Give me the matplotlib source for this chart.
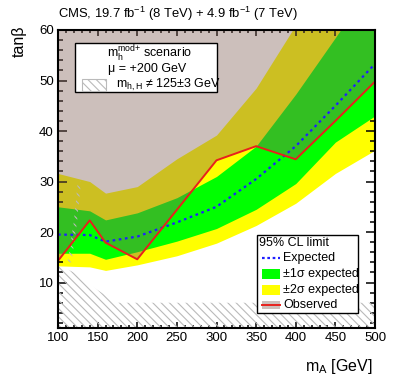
import matplotlib
matplotlib.use("Agg")
import matplotlib.pyplot as plt
from matplotlib.patches import Rectangle
from matplotlib.lines import Line2D
from matplotlib.ticker import MultipleLocator

plt.rcParams['font.family'] = ['Liberation Sans', 'DejaVu Sans']
plt.rcParams['mathtext.fontset'] = 'custom'
plt.rcParams['mathtext.rm'] = 'Liberation Sans'
plt.rcParams['mathtext.it'] = 'Liberation Sans:italic'
plt.rcParams['mathtext.bf'] = 'Liberation Sans:bold'
plt.rcParams['hatch.linewidth'] = 0.8

# ---- data ----
mA = [100, 140, 160, 200, 250, 300, 350, 400, 450, 500]
expected = [19.5, 19.4, 18.1, 19.1, 21.9, 25.0, 30.5, 37.0, 45.0, 53.3]
observed = [14.3, 22.3, 17.9, 14.6, 24.4, 34.2, 37.0, 34.4, 42.0, 49.8]
sig1_lo = [15.8, 15.8, 14.6, 16.1, 18.2, 20.7, 24.5, 29.6, 37.8, 43.0]
sig1_hi = [25.0, 24.2, 22.4, 23.8, 26.8, 31.0, 37.0, 47.3, 58.5, 70.0]
sig2_lo = [13.3, 13.1, 12.4, 13.5, 15.3, 17.8, 21.3, 25.7, 31.6, 36.2]
sig2_hi = [31.6, 30.0, 27.7, 29.0, 34.5, 39.2, 48.5, 61.0, 72.0, 84.0]

# m_h,H != 125+-3 GeV excluded region (hatched)
hatch_low_x = [100, 120, 150, 175, 500]
hatch_low_y = [13.5, 12.0, 8.5, 6.0, 6.0]
hatch_strip_x = [112, 120, 125, 129, 124, 117]
hatch_strip_y = [14.0, 22.0, 30.0, 30.0, 22.0, 14.0]

xmin, xmax, ymin, ymax = 100, 500, 1, 60

W, H = 399, 379
fig = plt.figure(figsize=(W / 100, H / 100), dpi=100)
L, R, T, B = 58, 375, 30, 328
ax = fig.add_axes([L / W, 1 - B / H, (R - L) / W, (B - T) / H])

YELLOW = '#ffff00'
GREEN = '#00ff00'
OBSC = (129 / 255, 96 / 255, 86 / 255)
HATCHC = '#bababa'

ax.fill_between(mA, sig2_lo, sig2_hi, color=YELLOW, lw=0, zorder=1)
ax.fill_between(mA, sig1_lo, sig1_hi, color=GREEN, lw=0, zorder=2)
ax.fill_between(mA, observed, [100] * len(mA), color=OBSC, alpha=0.4, lw=0, zorder=3)

ax.fill_between(hatch_low_x, [0] * len(hatch_low_x), hatch_low_y, facecolor='none',
                edgecolor=HATCHC, hatch='\\\\\\\\', lw=0, zorder=4)
ax.fill(hatch_strip_x, hatch_strip_y, facecolor='none', edgecolor=HATCHC,
        hatch='\\\\\\\\', lw=0, zorder=4)

ax.plot(mA, expected, color='#1f1fff', ls=(0, (1.2, 1.6)), lw=1.6, zorder=5)
ax.plot(mA, observed, color='#e8201c', lw=1.4, zorder=6)

ax.set_xlim(xmin, xmax)
ax.set_ylim(ymin, ymax)
ax.xaxis.set_major_locator(MultipleLocator(50))
ax.xaxis.set_minor_locator(MultipleLocator(10))
ax.yaxis.set_major_locator(MultipleLocator(10))
ax.yaxis.set_minor_locator(MultipleLocator(2))
ax.set_yticks([10, 20, 30, 40, 50, 60])
ax.tick_params(which='both', direction='in', top=True, right=True, labelsize=9.5, width=1.1, pad=3)
ax.tick_params(axis='x', which='major', length=4.5)
ax.tick_params(axis='x', which='minor', length=2.3)
ax.tick_params(axis='y', which='major', length=6.5)
ax.tick_params(axis='y', which='minor', length=3.3)
for s in ax.spines.values():
    s.set_linewidth(1.5)
    s.set_zorder(10)

fig.text(L / W, 1 - 14 / H, r'CMS, 19.7 fb$^{\mathregular{-1}}$ (8 TeV) + 4.9 fb$^{\mathregular{-1}}$ (7 TeV)',
         fontsize=9.4, ha='left', va='center')
fig.text(19 / W, 1 - 41 / H, 'tanβ', rotation=90, fontsize=11.5, ha='center', va='center')
fig.text(373 / W, 1 - 366 / H, r'm$_\mathregular{A}$ [GeV]', fontsize=11.5, ha='right', va='center')


def axc(px, py):
    return (px - L) / (R - L), (B - py) / (B - T)


# top-left info box
x0, y0 = axc(75, 92)
x1, y1 = axc(217, 43)
ax.add_patch(Rectangle((x0, y0), x1 - x0, y1 - y0, transform=ax.transAxes,
                       facecolor='white', edgecolor='black', lw=1.0, zorder=11))
ax.text(*axc(150, 54), r'm$_\mathregular{h}^\mathregular{mod{+}}$ scenario', transform=ax.transAxes,
        fontsize=9, ha='center', va='center', zorder=12)
ax.text(*axc(147, 69), 'μ = +200 GeV', transform=ax.transAxes,
        fontsize=9, ha='center', va='center', zorder=12)
hx0, hy0 = axc(82, 91)
hx1, hy1 = axc(106, 79)
ax.add_patch(Rectangle((hx0, hy0), hx1 - hx0, hy1 - hy0, transform=ax.transAxes,
                       facecolor='none', edgecolor=HATCHC, hatch='\\\\\\\\', lw=0.8, zorder=12))
ax.text(*axc(116, 85), r'm$_\mathregular{h,H}$ ≠ 125±3 GeV', transform=ax.transAxes,
        fontsize=9, ha='left', va='center', zorder=12)

# bottom-right legend box
x0, y0 = axc(257, 313)
x1, y1 = axc(358, 235)
ax.add_patch(Rectangle((x0, y0), x1 - x0, y1 - y0, transform=ax.transAxes,
                       facecolor='white', edgecolor='black', lw=1.0, zorder=11))
ax.text(*axc(259, 243), '95% CL limit', transform=ax.transAxes,
        fontsize=9, ha='left', va='center', zorder=12)
entries = [('Expected', 258), ('±1σ expected', 274), ('±2σ expected', 290), ('Observed', 305)]
for lab, py in entries:
    ax.text(*axc(283, py), lab, transform=ax.transAxes, fontsize=9, ha='left', va='center', zorder=12)
# expected symbol
ax.add_line(Line2D([axc(262, 0)[0], axc(280, 0)[0]], [axc(0, 258)[1]] * 2, transform=ax.transAxes,
                   color='#1f1fff', ls=(0, (1.2, 1.2)), lw=1.6, zorder=12))
for col, py in [(GREEN, 274), (YELLOW, 290)]:
    bx0, by0 = axc(262, py + 5)
    bx1, by1 = axc(280, py - 5)
    ax.add_patch(Rectangle((bx0, by0), bx1 - bx0, by1 - by0, transform=ax.transAxes,
                           facecolor=col, edgecolor='none', zorder=12))
bx0, by0 = axc(262, 309)
bx1, by1 = axc(280, 301)
ax.add_patch(Rectangle((bx0, by0), bx1 - bx0, by1 - by0, transform=ax.transAxes,
                       facecolor=OBSC, alpha=0.4, edgecolor='none', zorder=12))
ax.add_line(Line2D([axc(262, 0)[0], axc(280, 0)[0]], [axc(0, 305)[1]] * 2, transform=ax.transAxes,
                   color='#e8201c', lw=1.4, zorder=13))

fig.savefig('out.png', dpi=100)
